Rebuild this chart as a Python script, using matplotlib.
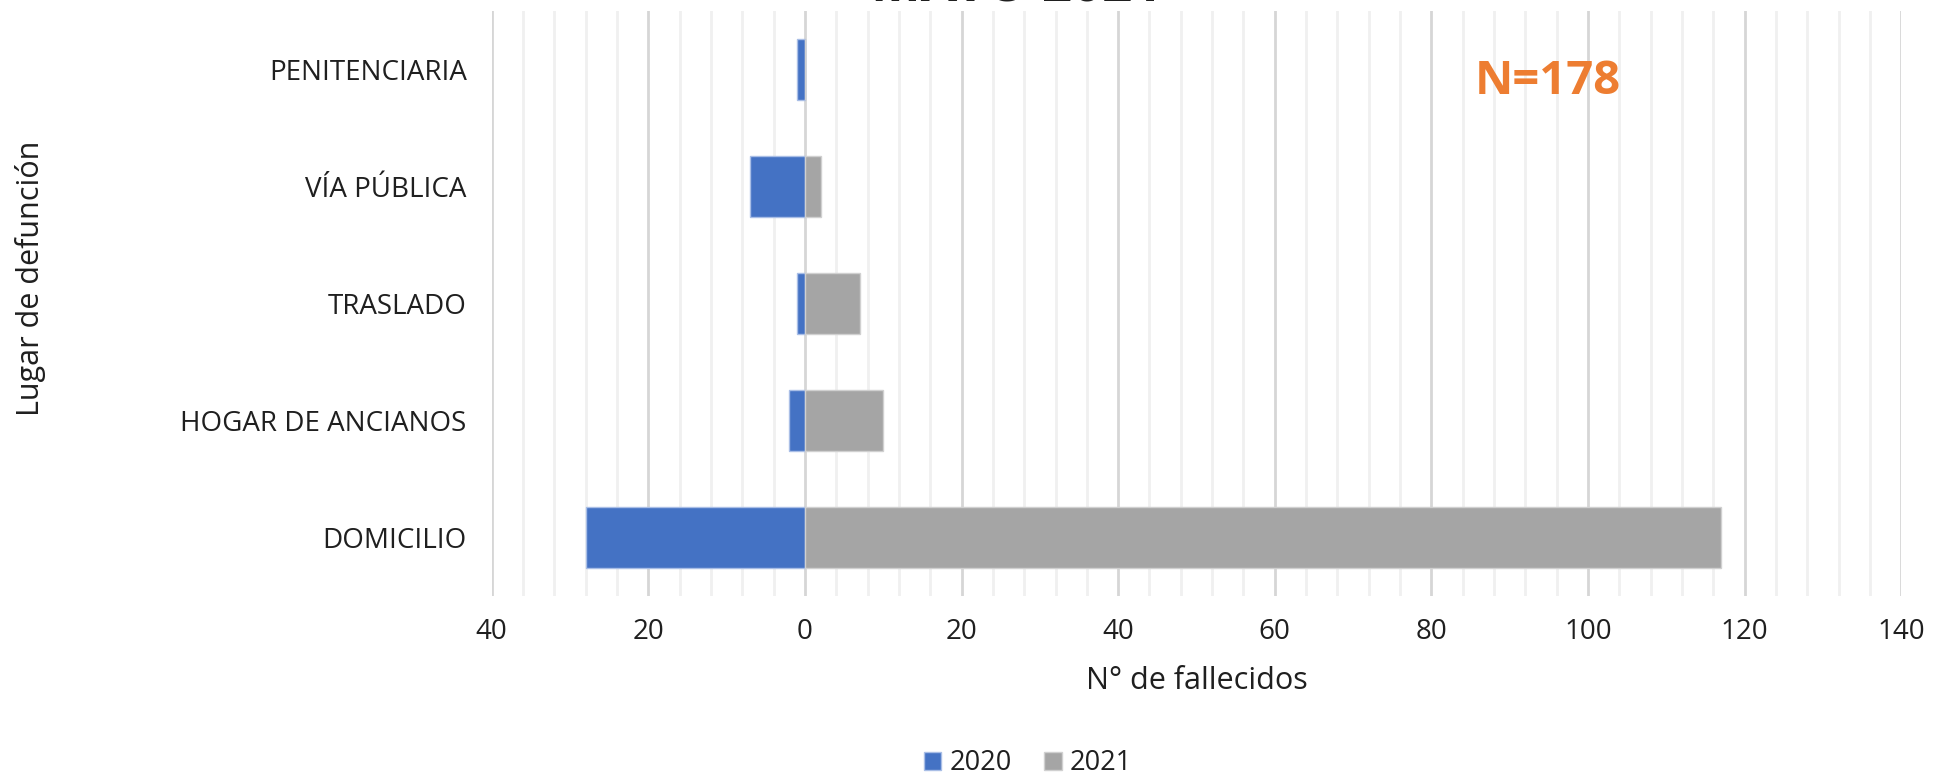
import matplotlib
matplotlib.use("Agg")
import matplotlib.pyplot as plt
from matplotlib.ticker import MultipleLocator, FuncFormatter

plt.rcParams["font.family"] = ["Open Sans", "DejaVu Sans"]

# bottom to top
lugares = ["DOMICILIO", "HOGAR DE ANCIANOS", "TRASLADO", "VÍA PÚBLICA", "PENITENCIARIA"]
fallecidos_2020 = [28, 2, 1, 7, 1]
fallecidos_2021 = [117, 10, 7, 2, 0]
total_label = "N=178"
title = "MAYO 2021"

BLUE = "#4472C4"
GRAY = "#A5A5A5"
TXT = "#1f1f1f"

fig = plt.figure(figsize=(19.36, 7.79), dpi=100)
ax = fig.add_axes([0.254, 0.235, 0.728, 0.751])

ypos = range(len(lugares))
ax.barh(ypos, [-v for v in fallecidos_2020], height=0.52, color=BLUE,
        edgecolor="#A9BEE6", linewidth=1, label="2020", zorder=3)
ax.barh(ypos, fallecidos_2021, height=0.52, color=GRAY,
        edgecolor="#D0D0D0", linewidth=1, label="2021", zorder=3)

ax.set_xlim(-40, 140)
ax.set_ylim(-0.5, len(lugares) - 0.5)
ax.xaxis.set_major_locator(MultipleLocator(20))
ax.xaxis.set_minor_locator(MultipleLocator(4))
ax.xaxis.set_major_formatter(FuncFormatter(lambda v, _: f"{abs(int(v))}"))
ax.grid(axis="x", which="major", color="#D6D6D6", linewidth=2, zorder=0)
ax.grid(axis="x", which="minor", color="#F0F0F0", linewidth=2, zorder=0)
ax.set_yticks(list(ypos))
ax.set_yticklabels(lugares)
for s in ax.spines.values():
    s.set_visible(False)
ax.tick_params(axis="both", which="both", length=0, labelsize=20, colors=TXT)
ax.tick_params(axis="x", pad=16)
ax.tick_params(axis="y", pad=18)

ax.set_xlabel("N° de fallecidos", fontsize=22, color=TXT, labelpad=14)
fig.text(0.016, 0.643, "Lugar de defunción", rotation=90, fontsize=22,
         color=TXT, ha="center", va="center")

ax.text(0.749, 0.88, total_label, transform=ax.transAxes, fontsize=34,
        fontweight="bold", color="#ED7D31", ha="center", va="center")

# title sits mostly above the image edge, as in the original crop
fig.text(0.525, 1 - 1 / 779, title, fontsize=38, fontweight="bold",
         color=TXT, ha="center", va="baseline")

fig.legend(loc="center", bbox_to_anchor=(0.531, 0.02), ncol=2, frameon=False,
           fontsize=19.5, handlelength=0.65, handleheight=0.65, handletextpad=0.3,
           columnspacing=1.2, labelcolor=TXT)

fig.savefig("out.png", dpi=100)
